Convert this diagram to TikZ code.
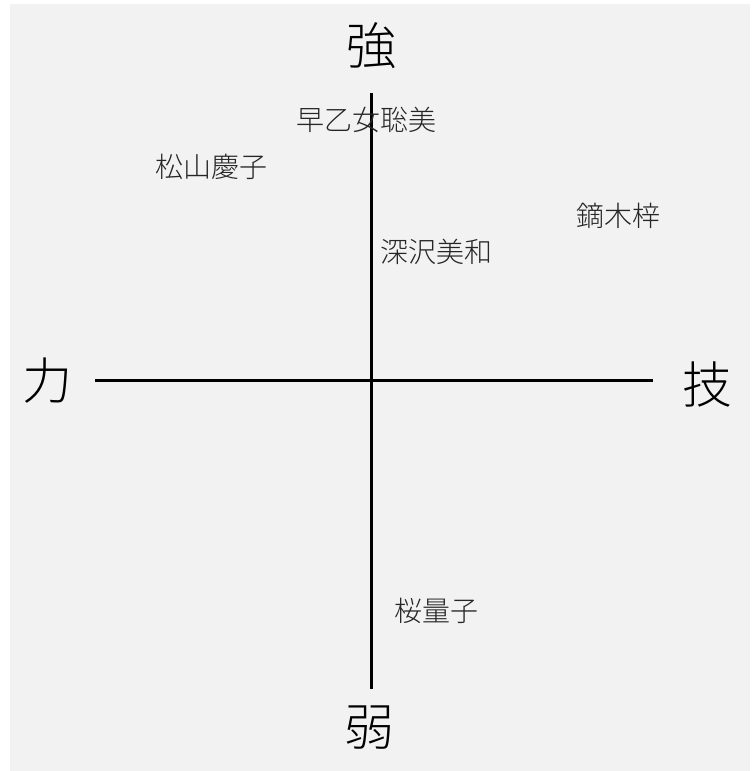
\documentclass[tikz,border=0pt]{standalone}
\usepackage{fontspec}
\newfontfamily\cjk{Noto Sans CJK JP}[UprightFont=* Light]
\definecolor{bg}{HTML}{F2F2F2}
\begin{document}
\begin{tikzpicture}[x=1pt,y=-1pt,
  axislabel/.style={font=\cjk\fontsize{50}{50}\selectfont, text=black, inner sep=0pt},
  namelabel/.style={font=\cjk\fontsize{28}{28}\selectfont, text=black!85, inner sep=0pt},
  axisline/.style={line width=3pt, black}]
\useasboundingbox (0,0) rectangle (753,771);
\fill[bg] (10,4) rectangle (750,771);
\coordinate (top) at (371,93);
\coordinate (bot) at (371,689);
\coordinate (left) at (95,380);
\coordinate (right) at (653,380);
\draw[axisline] (left) -- (right);
\draw[axisline] (top) -- (bot);
\node[axislabel] (strong) at (371,46) {強};
\node[axislabel] (weak) at (369,728) {弱};
\node[axislabel] (power) at (47,381) {力};
\node[axislabel] (skill) at (707,384) {技};
\node[namelabel] (saotome) at (366,120) {早乙女聡美};
\node[namelabel] (matsuyama) at (211,167) {松山慶子};
\node[namelabel] (fukasawa) at (436,252) {深沢美和};
\node[namelabel] (kaburagi) at (618,216) {鏑木梓};
\node[namelabel] (sakura) at (436,611) {桜量子};
\end{tikzpicture}
\end{document}
